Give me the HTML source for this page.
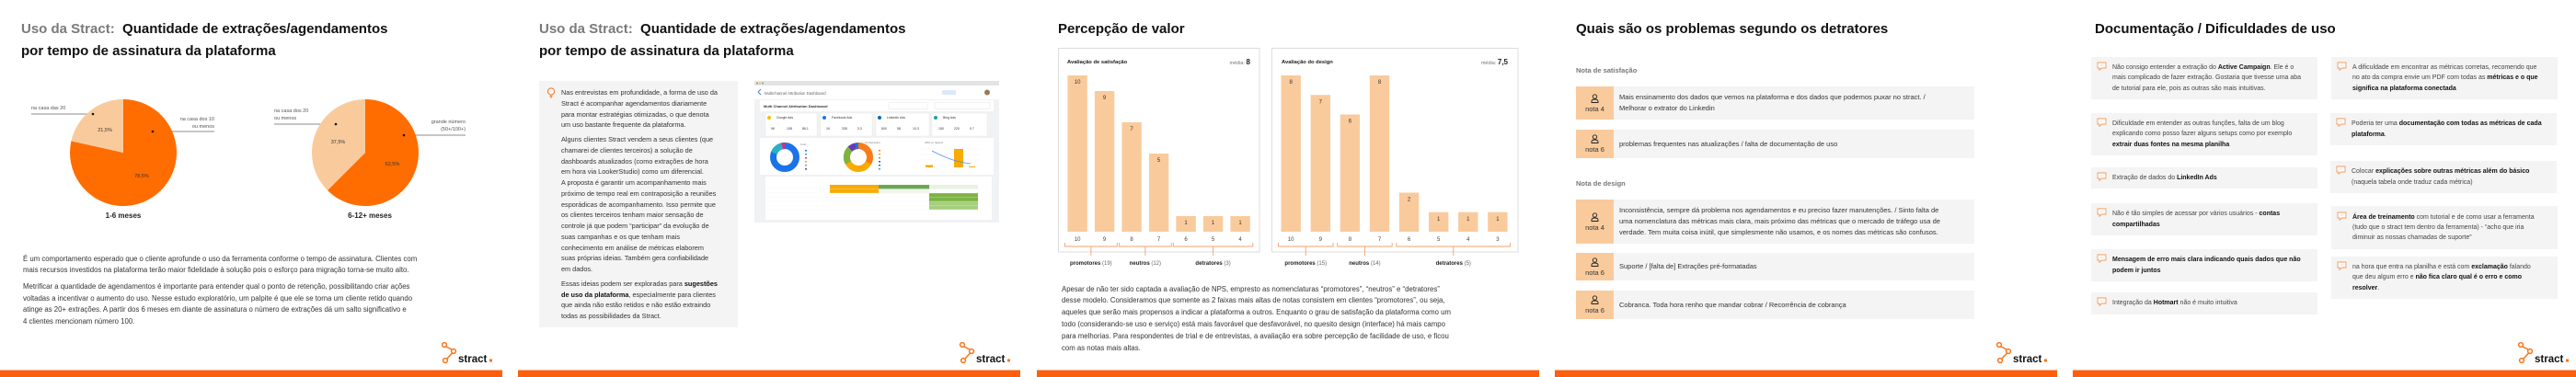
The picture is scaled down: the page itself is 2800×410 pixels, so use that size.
<!DOCTYPE html>
<html lang="pt"><head><meta charset="utf-8">
<style>
*{margin:0;padding:0;box-sizing:border-box}
html,body{width:2800px;height:410px;background:#fff;overflow:hidden;font-family:"Liberation Sans",Arial,sans-serif;color:#222}
.slide{position:absolute;top:0;width:546px;height:410px;background:#fff;overflow:hidden}
.title{position:absolute;left:23px;top:20px;font-size:15px;font-weight:bold;line-height:24px;color:#111;white-space:nowrap}
.title .g{color:#7a7a7a}
.bar{position:absolute;left:0;right:0;top:402px;height:8px;background:#fd5f0c;border-top:1px solid #fbb38a}
.logo{position:absolute;left:478px;top:370px;width:64px;height:30px}
.para{position:absolute;white-space:nowrap;color:#333}
.para div{white-space:nowrap}
.row{position:absolute;left:23px;width:433px;background:#f4f4f4;display:flex}
.nota{width:41px;background:#f9cb9c;display:flex;flex-direction:column;align-items:center;justify-content:center;font-size:7.5px;color:#333;gap:2px}
.rtext{flex:1;display:flex;align-items:center;padding-left:6px;font-size:7.5px;line-height:11.7px;color:#333}
.sub{position:absolute;left:23px;font-size:7.5px;font-weight:bold;color:#777}
.card{position:absolute;background:#f4f4f4;display:flex;align-items:center}
.card .in{position:relative;padding-left:23px;font-size:7px;line-height:11.3px;color:#444}
.card .in b{color:#111}
.card .ic{position:absolute;left:6px;top:0}
</style></head><body>

<!-- SLIDE 1 -->
<div class="slide" style="left:0">
  <div class="title"><span class="g">Uso da Stract:</span>&nbsp; Quantidade de extrações/agendamentos<br>por tempo de assinatura da plataforma</div>
  <svg id="pies" width="546" height="260" style="position:absolute;left:0;top:0">
    <g font-size="5.5" fill="#555">
      <text x="34" y="119">na casa das 20</text>
      <line x1="34" y1="124" x2="101" y2="124" stroke="#666" stroke-width="0.8"/>
      <text x="233" y="131" text-anchor="end">na casa dos 10</text>
      <text x="233" y="139" text-anchor="end">ou menos</text>
      <line x1="166" y1="143" x2="233" y2="143" stroke="#666" stroke-width="0.8"/>
      <text x="298" y="122">na casa dos 20</text>
      <text x="298" y="130">ou menos</text>
      <line x1="298" y1="135" x2="365" y2="135" stroke="#666" stroke-width="0.8"/>
      <text x="506" y="134" text-anchor="end">grande número</text>
      <text x="506" y="142" text-anchor="end">(50+/100+)</text>
      <line x1="439" y1="147" x2="506" y2="147" stroke="#666" stroke-width="0.8"/>
    </g>
    <g id="pieg"></g>
    <g fill="#111">
      <circle cx="101" cy="124" r="1.3"/><circle cx="166" cy="143" r="1.3"/>
      <circle cx="365" cy="135" r="1.3"/><circle cx="439" cy="147" r="1.3"/>
    </g>
    <text x="134" y="237" text-anchor="middle" font-size="8" font-weight="bold" fill="#222">1-6 meses</text>
    <text x="402" y="237" text-anchor="middle" font-size="8" font-weight="bold" fill="#222">6-12+ meses</text>
  </svg>
  <div class="para" style="left:25px;top:275.6px;font-size:7.8px;line-height:12.7px">
    <div>É um comportamento esperado que o cliente aprofunde o uso da ferramenta conforme o tempo de assinatura. Clientes com</div>
    <div>mais recursos investidos na plataforma terão maior fidelidade à solução pois o esforço para migração torna-se muito alto.</div>
    <div style="margin-top:4.8px">Metrificar a quantidade de agendamentos é importante para entender qual o ponto de retenção, possibilitando criar ações</div>
    <div>voltadas a incentivar o aumento do uso. Nesse estudo exploratório, um palpite é que ele se torna um cliente retido quando</div>
    <div>atinge as 20+ extrações. A partir dos 6 meses em diante de assinatura o número de extrações dá um salto significativo e</div>
    <div>4 clientes mencionam número 100.</div>
  </div>
  <svg class="logo" viewBox="0 0 64 30"><g fill="none" stroke="#f7751a" stroke-width="1.5"><circle cx="5" cy="5" r="2.4"/><circle cx="15" cy="12" r="2.4"/><circle cx="6" cy="22" r="2.4"/><line x1="7" y1="7" x2="13" y2="10"/><line x1="13.5" y1="14" x2="8" y2="20"/></g><text x="20" y="24" font-size="11.5" font-weight="bold" fill="#111">stract</text><rect x="54" y="20.5" width="3" height="3" fill="#f7751a"/></svg>
  <div class="bar"></div>
</div>

<!-- SLIDE 2 -->
<div class="slide" style="left:563px">
  <div class="title"><span class="g">Uso da Stract:</span>&nbsp; Quantidade de extrações/agendamentos<br>por tempo de assinatura da plataforma</div>
  <div style="position:absolute;left:23px;top:88px;width:216px;height:268px;background:#f4f4f4"></div>
  <svg style="position:absolute;left:31px;top:95px" width="10" height="12"><circle cx="5" cy="4.5" r="3.6" fill="none" stroke="#f7751a" stroke-width="1"/><line x1="3.5" y1="9.5" x2="6.5" y2="9.5" stroke="#f7751a"/><line x1="4" y1="11" x2="6" y2="11" stroke="#f7751a"/></svg>
  <div class="para" style="left:47px;top:95px;font-size:7.3px;line-height:11.75px">
    <div>Nas entrevistas em profundidade, a forma de uso da</div>
    <div>Stract é acompanhar agendamentos diariamente</div>
    <div>para montar estratégias otimizadas, o que denota</div>
    <div>um uso bastante frequente da plataforma.</div>
    <div style="margin-top:4px">Alguns clientes Stract vendem a seus clientes (que</div>
    <div>chamarei de clientes terceiros) a solução de</div>
    <div>dashboards atualizados (como extrações de hora</div>
    <div>em hora via LookerStudio) como um diferencial.</div>
    <div>A proposta é garantir um acompanhamento mais</div>
    <div>próximo de tempo real em contraposição a reuniões</div>
    <div>esporádicas de acompanhamento. Isso permite que</div>
    <div>os clientes terceiros tenham maior sensação de</div>
    <div>controle já que podem “participar” da evolução de</div>
    <div>suas campanhas e os que tenham mais</div>
    <div>conhecimento em análise de métricas elaborem</div>
    <div>suas próprias ideias. Também gera confiabilidade</div>
    <div>em dados.</div>
    <div style="margin-top:4px">Essas ideias podem ser exploradas para <b style="color:#111">sugestões</b></div>
    <div><b style="color:#111">de uso da plataforma</b>, especialmente para clientes</div>
    <div>que ainda não estão retidos e não estão extraindo</div>
    <div>todas as possibilidades da Stract.</div>
  </div>
  <svg style="position:absolute;left:257px;top:88px" width="266" height="154" viewBox="0 0 266 154">
    <rect width="266" height="154" fill="#f1f2f3"/>
    <rect width="266" height="5" fill="#e4e4e4"/>
    <circle cx="3" cy="2.5" r="1" fill="#e66"/><circle cx="6" cy="2.5" r="1" fill="#eb4"/><circle cx="9" cy="2.5" r="1" fill="#5b5"/>
    <rect y="5" width="266" height="15" fill="#fff"/>
    <text x="11" y="15" font-size="4.3" fill="#666">Multichannel Attribution Dashboard</text>
    <path d="M4 12l3-3M4 12l3 3" stroke="#4a8fe0" stroke-width="1.2"/>
    <rect x="204" y="10" width="15" height="5" rx="1" fill="#dbe8fb"/>
    <circle cx="253" cy="12.5" r="3" fill="#9a7a5a"/>
    <rect x="6" y="21" width="254" height="12" fill="#fff"/>
    <text x="10" y="29" font-size="4" font-weight="bold" fill="#333">Multi Channel Attribution Dashboard</text>
    <rect x="146" y="23.5" width="42" height="7" fill="#fff" stroke="#ddd" stroke-width="0.4"/>
    <rect x="196" y="23.5" width="60" height="7" fill="#fff" stroke="#ddd" stroke-width="0.4"/>
    <g fill="#fff" stroke="#e6e6e6" stroke-width="0.4">
      <rect x="12" y="35" width="56" height="25"/><rect x="72" y="35" width="56" height="25"/><rect x="132" y="35" width="58" height="25"/><rect x="193" y="35" width="60" height="25"/>
    </g>
    <g font-size="3.5" fill="#333">
      <text x="24" y="41">Google Ads</text><text x="84" y="41">Facebook Ads</text><text x="144" y="41">LinkedIn Ads</text><text x="205" y="41">Bing Ads</text>
      <text x="18" y="53">9K</text><text x="35" y="53">108</text><text x="52" y="53">86.1</text>
      <text x="78" y="53">1K</text><text x="95" y="53">335</text><text x="112" y="53">3.3</text>
      <text x="138" y="53">600</text><text x="155" y="53">58</text><text x="172" y="53">10.3</text>
      <text x="200" y="53">150</text><text x="217" y="53">220</text><text x="234" y="53">0.7</text>
    </g>
    <circle cx="16" cy="40" r="2" fill="#fbbc04"/><circle cx="76" cy="40" r="2" fill="#1877f2"/><circle cx="136" cy="40" r="2" fill="#0a66c2"/><circle cx="197" cy="40" r="2" fill="#20a0a0"/>
    <rect x="6" y="62" width="254" height="40" fill="#fff"/>
    <circle cx="33" cy="83" r="12.5" fill="none" stroke="#1a73e8" stroke-width="7"/>
    <path d="M33 70.5 A12.5 12.5 0 0 0 21.4 78.4" fill="none" stroke="#26b3c5" stroke-width="7"/>
    <path d="M33 70.5 A12.5 12.5 0 0 0 30 70.9" fill="none" stroke="#e52592" stroke-width="7"/>
    <circle cx="113" cy="83" r="12.5" fill="none" stroke="#f9ab00" stroke-width="7"/>
    <path d="M113 70.5 A12.5 12.5 0 0 1 124 89" fill="none" stroke="#fa7b17" stroke-width="7"/>
    <path d="M102 89 A12.5 12.5 0 0 1 104 74" fill="none" stroke="#7cb342" stroke-width="7"/>
    <path d="M104 74 A12.5 12.5 0 0 1 110 71" fill="none" stroke="#673ab7" stroke-width="7"/>
    <path d="M110 71 A12.5 12.5 0 0 1 113 70.5" fill="none" stroke="#1a73e8" stroke-width="7"/>
    <g font-size="3" fill="#777"><text x="50" y="70">Cost</text><text x="120" y="68">Conversions</text><text x="185" y="68">CPA vs. Spend</text></g>
    <g fill="#1a73e8"><rect x="55" y="75" width="2" height="1.5"/><rect x="55" y="79" width="2" height="1.5" fill="#26b3c5"/><rect x="55" y="83" width="2" height="1.5" fill="#e52592"/><rect x="55" y="87" width="2" height="1.5" fill="#f9ab00"/><rect x="55" y="91" width="2" height="1.5" fill="#7cb342"/><rect x="55" y="95" width="2" height="1.5" fill="#673ab7"/></g>
    <g fill="#fa7b17"><rect x="135" y="75" width="2" height="1.5"/><rect x="135" y="79" width="2" height="1.5" fill="#f9ab00"/><rect x="135" y="83" width="2" height="1.5" fill="#7cb342"/><rect x="135" y="87" width="2" height="1.5" fill="#673ab7"/><rect x="135" y="91" width="2" height="1.5" fill="#1a73e8"/><rect x="135" y="95" width="2" height="1.5" fill="#26b3c5"/></g>
    <g stroke="#eee" stroke-width="0.4"><line x1="180" y1="74" x2="244" y2="74"/><line x1="180" y1="80" x2="244" y2="80"/><line x1="180" y1="86" x2="244" y2="86"/><line x1="180" y1="92" x2="244" y2="92"/></g>
    <rect x="217" y="74" width="10" height="20" fill="#f9ab00"/>
    <rect x="186" y="91.5" width="8" height="2.5" fill="#f9ab00"/><rect x="233" y="93" width="7" height="1" fill="#f9ab00"/>
    <path d="M193 76 Q215 88 235 90" fill="none" stroke="#4a8fe0" stroke-width="0.8"/>
    <rect x="12" y="104" width="246" height="47" fill="#fff"/>
    <rect x="82" y="113" width="53" height="9" fill="#f9ab00"/>
    <rect x="135" y="113" width="55" height="4.5" fill="#6aa84f"/>
    <rect x="190" y="113" width="53" height="4.5" fill="#e8f2e1"/>
    <rect x="135" y="117.5" width="55" height="4.5" fill="#eef5ea"/>
    <rect x="190" y="122" width="53" height="18" fill="#7cb342"/>
    <rect x="190" y="131" width="53" height="9" fill="#a5cf7e"/>
    <g stroke="#eee" stroke-width="0.3"><line x1="14" y1="117.5" x2="243" y2="117.5"/><line x1="14" y1="122" x2="243" y2="122"/><line x1="14" y1="126.5" x2="243" y2="126.5"/><line x1="14" y1="131" x2="243" y2="131"/><line x1="14" y1="135.5" x2="243" y2="135.5"/><line x1="14" y1="140" x2="243" y2="140"/></g>
  </svg>
  <svg class="logo" viewBox="0 0 64 30"><g fill="none" stroke="#f7751a" stroke-width="1.5"><circle cx="5" cy="5" r="2.4"/><circle cx="15" cy="12" r="2.4"/><circle cx="6" cy="22" r="2.4"/><line x1="7" y1="7" x2="13" y2="10"/><line x1="13.5" y1="14" x2="8" y2="20"/></g><text x="20" y="24" font-size="11.5" font-weight="bold" fill="#111">stract</text><rect x="54" y="20.5" width="3" height="3" fill="#f7751a"/></svg>
  <div class="bar"></div>
</div>

<!-- SLIDE 3 -->
<div class="slide" style="left:1127px">
  <div class="title">Percepção de valor</div>
  <svg id="bars" width="546" height="300" style="position:absolute;left:0;top:0">
    <rect x="23.5" y="52.5" width="218.5" height="221.5" fill="#fff" stroke="#ddd"/>
    <rect x="255.5" y="52.5" width="267.5" height="221.5" fill="#fff" stroke="#ddd"/>
    <text x="33" y="69" font-size="5.8" font-weight="bold" fill="#222">Avaliação de satisfação</text>
    <text x="232" y="70" font-size="5.5" fill="#777" text-anchor="end">média: <tspan font-size="8" font-weight="bold" fill="#222">8</tspan></text>
    <text x="266" y="69" font-size="5.8" font-weight="bold" fill="#222">Avaliação do design</text>
    <text x="512" y="70" font-size="5.5" fill="#777" text-anchor="end">média: <tspan font-size="8" font-weight="bold" fill="#222">7,5</tspan></text>
  </svg>
  <div class="para" style="left:27px;top:308.6px;font-size:7.8px;line-height:12.8px">
    <div>Apesar de não ter sido captada a avaliação de NPS, empresto as nomenclaturas “promotores”, “neutros” e “detratores”</div>
    <div>desse modelo. Consideramos que somente as 2 faixas mais altas de notas consistem em clientes “promotores”, ou seja,</div>
    <div>aqueles que serão mais propensos a indicar a plataforma a outros. Enquanto o grau de satisfação da plataforma como um</div>
    <div>todo (considerando-se uso e serviço) está mais favorável que desfavorável, no quesito design (interface) há mais campo</div>
    <div>para melhorias. Para respondentes de trial e de entrevistas, a avaliação era sobre percepção de facilidade de uso, e ficou</div>
    <div>com as notas mais altas.</div>
  </div>
  <div class="bar"></div>
</div>

<!-- SLIDE 4 -->
<div class="slide" style="left:1690px">
  <div class="title">Quais são os problemas segundo os detratores</div>
  <div class="sub" style="top:72px">Nota de satisfação</div>
  <div class="row" style="top:94px;height:36px">
    <div class="nota"><svg width="9" height="10" viewBox="0 0 9 10"><circle cx="4.5" cy="3" r="2.2" fill="none" stroke="#222" stroke-width="0.9"/><path d="M1 9.5V8.3C1 6.8 2.3 6 4.5 6S8 6.8 8 8.3V9.5Z" fill="none" stroke="#222" stroke-width="0.9"/></svg>nota 4</div>
    <div class="rtext"><div>Mais ensinamento dos dados que vemos na plataforma e dos dados que podemos puxar no stract. /<br>Melhorar o extrator do Linkedin</div></div>
  </div>
  <div class="row" style="top:141px;height:31px">
    <div class="nota"><svg width="9" height="10" viewBox="0 0 9 10"><circle cx="4.5" cy="3" r="2.2" fill="none" stroke="#222" stroke-width="0.9"/><path d="M1 9.5V8.3C1 6.8 2.3 6 4.5 6S8 6.8 8 8.3V9.5Z" fill="none" stroke="#222" stroke-width="0.9"/></svg>nota 6</div>
    <div class="rtext"><div>problemas frequentes nas atualizações / falta de documentação de uso</div></div>
  </div>
  <div class="sub" style="top:195px">Nota de design</div>
  <div class="row" style="top:217px;height:48px">
    <div class="nota"><svg width="9" height="10" viewBox="0 0 9 10"><circle cx="4.5" cy="3" r="2.2" fill="none" stroke="#222" stroke-width="0.9"/><path d="M1 9.5V8.3C1 6.8 2.3 6 4.5 6S8 6.8 8 8.3V9.5Z" fill="none" stroke="#222" stroke-width="0.9"/></svg>nota 4</div>
    <div class="rtext"><div>Inconsistência, sempre dá problema nos agendamentos e eu preciso fazer manutenções. / Sinto falta de<br>uma nomenclatura das métricas mais clara, mais próximo das métricas que o mercado de tráfego usa de<br>verdade. Tem muita coisa inútil, que simplesmente não usamos, e os nomes das métricas são confusos.</div></div>
  </div>
  <div class="row" style="top:275px;height:30px">
    <div class="nota"><svg width="9" height="10" viewBox="0 0 9 10"><circle cx="4.5" cy="3" r="2.2" fill="none" stroke="#222" stroke-width="0.9"/><path d="M1 9.5V8.3C1 6.8 2.3 6 4.5 6S8 6.8 8 8.3V9.5Z" fill="none" stroke="#222" stroke-width="0.9"/></svg>nota 6</div>
    <div class="rtext"><div>Suporte / [falta de] Extrações pré-formatadas</div></div>
  </div>
  <div class="row" style="top:316px;height:31px">
    <div class="nota"><svg width="9" height="10" viewBox="0 0 9 10"><circle cx="4.5" cy="3" r="2.2" fill="none" stroke="#222" stroke-width="0.9"/><path d="M1 9.5V8.3C1 6.8 2.3 6 4.5 6S8 6.8 8 8.3V9.5Z" fill="none" stroke="#222" stroke-width="0.9"/></svg>nota 6</div>
    <div class="rtext"><div>Cobranca. Toda hora renho que mandar cobrar / Recorrência de cobrança</div></div>
  </div>
  <svg class="logo" viewBox="0 0 64 30"><g fill="none" stroke="#f7751a" stroke-width="1.5"><circle cx="5" cy="5" r="2.4"/><circle cx="15" cy="12" r="2.4"/><circle cx="6" cy="22" r="2.4"/><line x1="7" y1="7" x2="13" y2="10"/><line x1="13.5" y1="14" x2="8" y2="20"/></g><text x="20" y="24" font-size="11.5" font-weight="bold" fill="#111">stract</text><rect x="54" y="20.5" width="3" height="3" fill="#f7751a"/></svg>
  <div class="bar"></div>
</div>

<!-- SLIDE 5 -->
<div class="slide" style="left:2253px;width:547px">
  <div class="title" style="left:24px">Documentação / Dificuldades de uso</div>
  <div id="cards"></div>
  <svg class="logo" style="left:482px" viewBox="0 0 64 30"><g fill="none" stroke="#f7751a" stroke-width="1.5"><circle cx="5" cy="5" r="2.4"/><circle cx="15" cy="12" r="2.4"/><circle cx="6" cy="22" r="2.4"/><line x1="7" y1="7" x2="13" y2="10"/><line x1="13.5" y1="14" x2="8" y2="20"/></g><text x="20" y="24" font-size="11.5" font-weight="bold" fill="#111">stract</text><rect x="54" y="20.5" width="3" height="3" fill="#f7751a"/></svg>
  <div class="bar"></div>
</div>

<script>
// ---- Pie data ----
const pie1Values = [78.5, 21.5];
const pie2Values = [62.5, 37.5];
const pieLabels = ['78,5%', '21,5%'];
const pie2Labels = ['62,5%', '37,5%'];
// ---- Bar data ----
const satCategories = ['10','9','8','7','6','5','4'];
const satValues = [10, 9, 7, 5, 1, 1, 1];
const designCategories = ['10','9','8','7','6','5','4','3'];
const designValues = [8, 7, 6, 8, 2, 1, 1, 1];
const groupNames = ['promotores','neutros','detratores'];
const satGroupRanges = [[0,1],[2,3],[4,6]];
const designGroupRanges = [[0,1],[2,3],[4,7]];

const NS = 'http://www.w3.org/2000/svg';
function mk(tag, attrs, parent){const e=document.createElementNS(NS,tag);for(const k in attrs)e.setAttribute(k,attrs[k]);parent.appendChild(e);return e;}

function drawPie(g, cx, cy, r, vals, labels, colors, name){
  const total = vals.reduce((a,b)=>a+b,0);
  let a0 = 0;
  vals.forEach((v,i)=>{
    const a1 = a0 + v/total*2*Math.PI;
    const x0=cx+r*Math.sin(a0), y0=cy-r*Math.cos(a0), x1=cx+r*Math.sin(a1), y1=cy-r*Math.cos(a1);
    const large = (a1-a0)>Math.PI?1:0;
    const p = mk('path',{d:`M${cx} ${cy}L${x0} ${y0}A${r} ${r} 0 ${large} 1 ${x1} ${y1}Z`,fill:colors[i]},g);
    
    
    const am=(a0+a1)/2;
    const t = mk('text',{x:cx+0.55*r*Math.sin(am),y:cy-0.55*r*Math.cos(am)+2,'text-anchor':'middle','font-size':'5.5',fill:'#333'},g);
    t.textContent = labels[i];
    
    
    a0 = a1;
  });
}
const pg = document.getElementById('pieg');
drawPie(pg, 134, 166, 58, pie1Values, pieLabels, ['#ff6d01','#f9cb9c'], 'pie1');
drawPie(pg, 397, 166, 58, pie2Values, pie2Labels, ['#ff6d01','#f9cb9c'], 'pie2');

function drawBars(svg, cats, vals, ranges, x0, step, w, name){
  const base = 252, top = 82;
  const maxV = Math.max(...vals);
  const ys = v => base - v/maxV*(base-top);
  const xs = i => x0 + i*step;
  vals.forEach((v,i)=>{
    const b = mk('rect',{x:xs(i),y:ys(v),width:w,height:base-ys(v),fill:'#f9cb9c'},svg);
    
    
    const vl = mk('text',{x:xs(i)+w/2,y:ys(v)+9,'text-anchor':'middle','font-size':'6',fill:'#333'},svg);
    vl.textContent = v;
    
    
    const cl = mk('text',{x:xs(i)+w/2,y:262,'text-anchor':'middle','font-size':'6',fill:'#444'},svg);
    cl.textContent = cats[i];
    
    
  });
  ranges.forEach((r,gi)=>{
    const xa = xs(r[0])-3, xb = xs(r[1])+w+3, xm=(xa+xb)/2;
    const br = mk('path',{d:`M${xa} 264V268H${xb}V264M${xm} 268V278`,fill:'none',stroke:'#f6a26b','stroke-width':'0.9'},svg);
    
    
    let sum=0; for(let k=r[0];k<=r[1];k++) sum+=vals[k];
    const t = mk('text',{x:xm,y:288,'text-anchor':'middle','font-size':'6',fill:'#666'},svg);
    const tb = mk('tspan',{'font-weight':'bold',fill:'#222'},t); tb.textContent = groupNames[gi];
    const tn = mk('tspan',{},t); tn.textContent = ' ('+sum+')';
    
    
  });
}
const bsvg = document.getElementById('bars');
drawBars(bsvg, satCategories, satValues, satGroupRanges, 33.4, 29.5, 21.4, 'satisfaction');
drawBars(bsvg, designCategories, designValues, designGroupRanges, 265.5, 32.1, 21.4, 'design');

// ---- cards slide 5 ----
const bubble = '<svg class="ic" width="11" height="10" viewBox="0 0 11 10"><path d="M1 1H10V7H5.5L3 9.3V7H1Z" fill="#fff" stroke="#f59a5a" stroke-width="0.9"/><circle cx="4" cy="4" r="0.4" fill="#f59a5a"/><circle cx="5.5" cy="4" r="0.4" fill="#f59a5a"/><circle cx="7" cy="4" r="0.4" fill="#f59a5a"/></svg>';
const cardDefs = [
 [20,62,246,46,'Não consigo entender a extração do <b>Active Campaign</b>. Ele é o<br>mais complicado de fazer extração. Gostaria que tivesse uma aba<br>de tutorial para ele, pois as outras são mais intuitivas.'],
 [20,123,246,46,'Dificuldade em entender as outras funções, falta de um blog<br>explicando como posso fazer alguns setups como por exemplo<br><b>extrair duas fontes na mesma planilha</b>'],
 [20,182,246,23,'Extração de dados do <b>LinkedIn Ads</b>'],
 [20,221,246,35,'Não é tão simples de acessar por vários usuários - <b>contas</b><br><b>compartilhadas</b>'],
 [20,271,246,35,'<b>Mensagem de erro mais clara indicando quais dados que não</b><br><b>podem ir juntos</b>'],
 [20,318,246,24,'Integração da <b>Hotmart</b> não é muito intuitiva'],
 [281,62,246,46,'A dificuldade em encontrar as métricas corretas, recomendo que<br>no ato da compra envie um PDF com todas as <b>métricas e o que</b><br><b>significa na plataforma conectada</b>'],
 [280,123,246,35,'Poderia ter uma <b>documentação com todas as métricas de cada</b><br><b>plataforma</b>.'],
 [280,175,246,35,'Colocar <b>explicações sobre outras métricas além do básico</b><br>(naquela tabela onde traduz cada métrica)'],
 [281,224,246,47,'<b>Área de treinamento</b> com tutorial e de como usar a ferramenta<br>(tudo que o stract tem dentro da ferramenta) - “acho que iria<br>diminuir as nossas chamadas de suporte”'],
 [281,279,246,46,'na hora que entra na planilha e está com <b>exclamação</b> falando<br>que deu algum erro e <b>não fica claro qual é o erro e como</b><br><b>resolver</b>.']
];
const cwrap = document.getElementById('cards');
cardDefs.forEach(c=>{
  const d = document.createElement('div');
  d.className='card';
  d.style.cssText=`left:${c[0]}px;top:${c[1]}px;width:${c[2]}px;height:${c[3]}px`;
  
  
  d.innerHTML = '<div class="in">'+bubble.replace('class="ic"','class="ic" style="left:-17px;top:-1px"')+c[4]+'</div>';
  d.firstChild.style.paddingLeft='0';
  d.firstChild.style.marginLeft='23px';
  cwrap.appendChild(d);
});
</script>
</body></html>
